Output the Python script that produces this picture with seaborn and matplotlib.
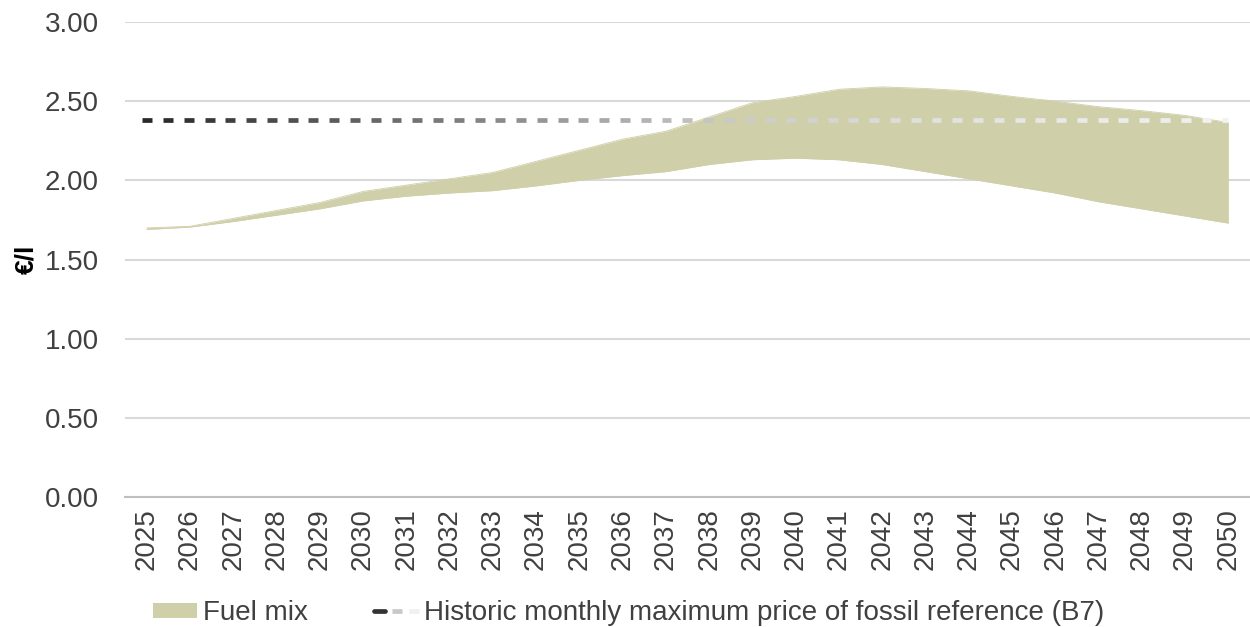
import numpy as np
import matplotlib
matplotlib.use("Agg")
import matplotlib.pyplot as plt
import seaborn as sns
from matplotlib.collections import LineCollection
from matplotlib.lines import Line2D
from matplotlib.patches import Patch
from matplotlib.legend_handler import HandlerTuple

# ---------------- data ----------------
years = list(range(2025, 2051))
fuel_mix_upper = [1.70, 1.71, 1.76, 1.81, 1.86, 1.93, 1.97, 2.01, 2.05, 2.12, 2.19, 2.26, 2.31,
                  2.40, 2.49, 2.53, 2.575, 2.59, 2.58, 2.565, 2.53, 2.50, 2.465, 2.44, 2.41, 2.365]
fuel_mix_lower = [1.69, 1.705, 1.74, 1.78, 1.82, 1.87, 1.90, 1.92, 1.935, 1.965, 2.00, 2.03, 2.055,
                  2.10, 2.13, 2.14, 2.13, 2.10, 2.055, 2.01, 1.965, 1.92, 1.865, 1.82, 1.775, 1.73]
reference_b7 = [2.38] * len(years)
y_ticks = [0.0, 0.5, 1.0, 1.5, 2.0, 2.5, 3.0]
label_fuel = "Fuel mix"
label_ref = "Historic monthly maximum price of fossil reference (B7)"
y_label = "€/l"

# ---------------- style ----------------
sns.set_theme(style="white")
plt.rcParams['font.family'] = ['Liberation Sans', 'DejaVu Sans']
FS = 20
BAND = "#cfcfa9"
TXT = "#404040"

fig = plt.figure(figsize=(12.5, 6.27), dpi=100)
ax = fig.add_axes([0.1, 0.207, 0.9, 0.758])

xpos = np.arange(len(years))
sns.lineplot(x=xpos, y=fuel_mix_upper, ax=ax, color=BAND, lw=0.6)
sns.lineplot(x=xpos, y=fuel_mix_lower, ax=ax, color=BAND, lw=0.6)
ax.fill_between(xpos, fuel_mix_lower, fuel_mix_upper, color=BAND, lw=0, zorder=2)

# gradient dashed reference line: split into individual dashes
ref = np.array(reference_b7)
period = 0.48
dash = 0.23
starts = np.arange(xpos[0] - 0.1, xpos[-1], period)
segs = []
cols = []
stops_f = [0.0, 0.33, 0.52, 0.72, 1.0]
stops_g = [0.16, 0.55, 0.78, 0.88, 0.95]
for s in starts:
    e = min(s + dash, xpos[-1])
    segs.append([(s, np.interp(s, xpos, ref)), (e, np.interp(e, xpos, ref))])
    g = np.interp(max(s, 0) / xpos[-1], stops_f, stops_g)
    cols.append((g, g, g))
lc = LineCollection(segs, colors=cols, linewidths=3.4, capstyle="butt", zorder=3)
ax.add_collection(lc)

# axes formatting
ax.set_xlim(-0.5, len(years) - 0.5)
ax.set_ylim(0, 3.0)
ax.set_yticks(y_ticks)
ax.set_yticklabels([f"{v:.2f}" for v in y_ticks], fontsize=FS, color=TXT)
ax.set_xticks(xpos)
ax.set_xticklabels([str(y) for y in years], rotation=90, fontsize=FS, color=TXT)
ax.tick_params(axis="y", length=0, pad=19)
ax.tick_params(axis="x", length=0, pad=8)
ax.yaxis.grid(True, color="#d9d9d9", lw=1.5)
ax.xaxis.grid(False)
ax.set_axisbelow(True)
for sp in ["top", "right", "left"]:
    ax.spines[sp].set_visible(False)
ax.spines["bottom"].set_color("#bfbfbf")
ax.spines["bottom"].set_linewidth(1.5)
ax.spines["bottom"].set_zorder(1)

ax.set_ylabel(y_label, fontsize=19, fontweight="bold", color="#000000")
ax.yaxis.set_label_coords(-0.077, 0.5)
ax.set_xlabel("")

# legend
h_fuel = Patch(facecolor=BAND, edgecolor="none")
h_ref = (Line2D([], [], color="#333333", lw=3.4, solid_capstyle="round"),
         Line2D([], [], color="#c8c8c8", lw=3.4, solid_capstyle="butt"),
         Line2D([], [], color="#f0f0f0", lw=3.4, solid_capstyle="butt"))
leg = fig.legend([h_fuel, h_ref], [label_fuel, label_ref], loc="center",
                 bbox_to_anchor=(0.503, 0.022), ncol=2, frameon=False, fontsize=FS,
                 handlelength=1.6, handleheight=0.47, handletextpad=0.2, columnspacing=2.4,
                 handler_map={tuple: HandlerTuple(ndivide=None, pad=0.25)})
for t in leg.get_texts():
    t.set_color(TXT)

fig.savefig("out.png", dpi=100)
